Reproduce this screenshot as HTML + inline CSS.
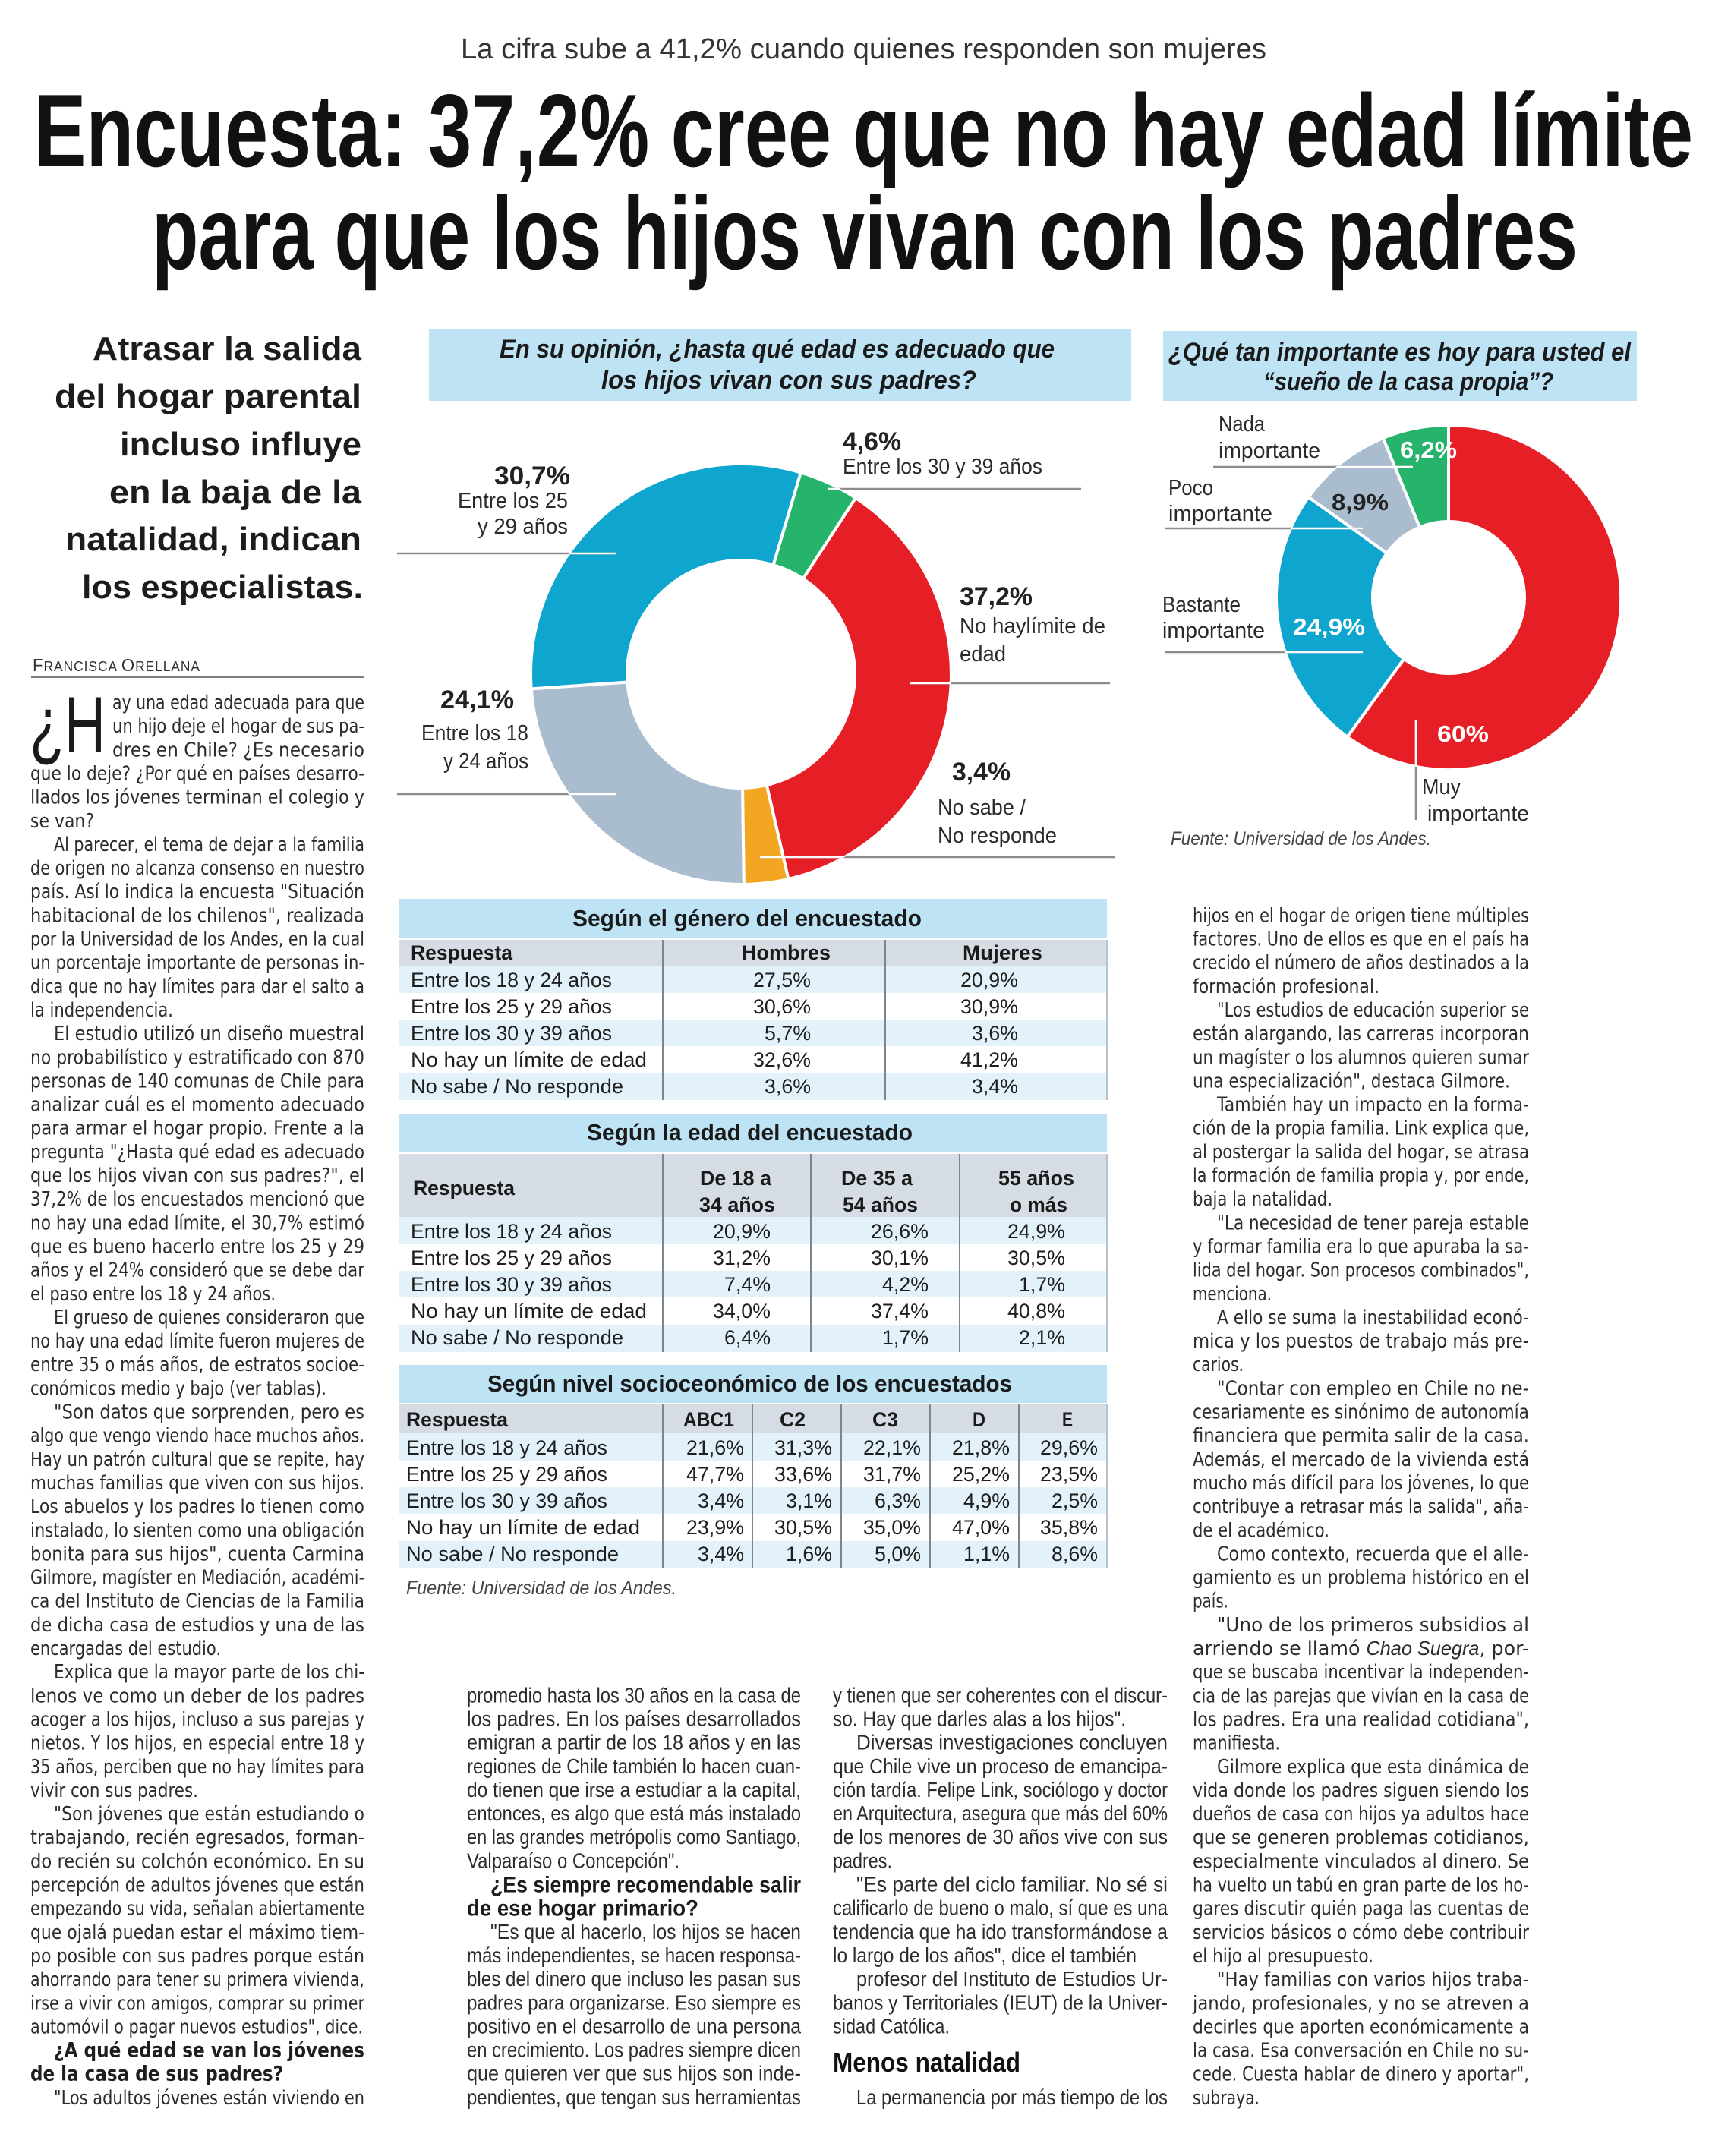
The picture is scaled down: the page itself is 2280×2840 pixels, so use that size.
<!DOCTYPE html>
<html><head><meta charset="utf-8"><style>
html,body{margin:0;padding:0;background:#fff}
svg{display:block}
.t1{font-family:"Liberation Sans",sans-serif;font-weight:bold;font-size:136px;fill:#111}
.sub{font-family:"Liberation Sans",sans-serif;font-size:38px;fill:#333}
.deck{font-family:"Liberation Sans",sans-serif;font-weight:bold;font-size:44px;fill:#1c1c1c}
.bd{font-family:"DejaVu Sans","Liberation Sans",sans-serif;font-size:26px;fill:#2c2c2c}
.bdb{font-family:"DejaVu Sans","Liberation Sans",sans-serif;font-weight:bold;font-size:27px;fill:#1e1e1e}
.md{font-family:"Liberation Sans Narrow","Liberation Sans",sans-serif;font-size:28px;fill:#2c2c2c}
.mdb{font-family:"Liberation Sans Narrow","Liberation Sans",sans-serif;font-weight:bold;font-size:30px;fill:#1c1c1c}
.tb{font-family:"Liberation Sans Narrow","Liberation Sans",sans-serif;font-size:27px;fill:#1e1e1e}
.tbb{font-family:"Liberation Sans Narrow","Liberation Sans",sans-serif;font-weight:bold;font-size:27px;fill:#1a1a1a}
.tt{font-family:"Liberation Sans Narrow","Liberation Sans",sans-serif;font-weight:bold;font-size:31px;fill:#1a1a1a}
.cl{font-family:"Liberation Sans",sans-serif;font-size:29px;fill:#2a2a2a}
.cp{font-family:"Liberation Sans",sans-serif;font-weight:bold;font-size:34px;fill:#222}
.ct{font-family:"Liberation Sans",sans-serif;font-weight:bold;font-style:italic;font-size:34px;fill:#1a1a1a}
.fu{font-family:"Liberation Sans",sans-serif;font-style:italic;font-size:25px;fill:#444}
</style></head><body>
<svg xmlns="http://www.w3.org/2000/svg" width="2280" height="2840" viewBox="0 0 2280 2840">
<defs>
<clipPath id="ring1"><path clip-rule="evenodd" d="M699,888 A277,277 0 1,0 1253,888 A277,277 0 1,0 699,888 Z M826,888 A150,150 0 1,0 1126,888 A150,150 0 1,0 826,888 Z"/></clipPath>
<clipPath id="ring2"><path clip-rule="evenodd" d="M1681,787 A227,227 0 1,0 2135,787 A227,227 0 1,0 1681,787 Z M1808,787 A100,100 0 1,0 2008,787 A100,100 0 1,0 1808,787 Z"/></clipPath>
</defs>

<!-- HEADER -->
<text class="sub" x="607" y="77" textLength="1061" lengthAdjust="spacingAndGlyphs">La cifra sube a 41,2% cuando quienes responden son mujeres</text>
<text class="t1" x="45" y="219" textLength="2185" lengthAdjust="spacingAndGlyphs">Encuesta: 37,2% cree que no hay edad límite</text>
<text class="t1" x="200" y="354" textLength="1878" lengthAdjust="spacingAndGlyphs">para que los hijos vivan con los padres</text>

<!-- DECK -->
<text class="deck" x="122" y="474" textLength="354" lengthAdjust="spacingAndGlyphs">Atrasar la salida</text>
<text class="deck" x="72" y="537" textLength="404" lengthAdjust="spacingAndGlyphs">del hogar parental</text>
<text class="deck" x="158" y="600" textLength="318" lengthAdjust="spacingAndGlyphs">incluso influye</text>
<text class="deck" x="144" y="663" textLength="332" lengthAdjust="spacingAndGlyphs">en la baja de la</text>
<text class="deck" x="86" y="725" textLength="390" lengthAdjust="spacingAndGlyphs">natalidad, indican</text>
<text class="deck" x="108" y="788" textLength="370" lengthAdjust="spacingAndGlyphs">los especialistas.</text>

<!-- BYLINE -->
<text x="43" y="884" textLength="221" lengthAdjust="spacingAndGlyphs" style="font-family:'Liberation Sans',sans-serif;font-size:18px;fill:#333;letter-spacing:1px"><tspan style="font-size:23px">F</tspan>RANCISCA <tspan style="font-size:23px">O</tspan>RELLANA</text>
<line x1="41" y1="892" x2="479" y2="892" stroke="#555" stroke-width="1.6"/>

<!-- DROP CAP -->
<text x="39" y="990" textLength="100" lengthAdjust="spacingAndGlyphs" style="font-family:'Liberation Sans',sans-serif;font-size:104px;fill:#1a1a1a">¿H</text>

<!-- LEFT COLUMN -->
<text class="bd" x="148" y="934.0" textLength="332" lengthAdjust="spacingAndGlyphs">ay una edad adecuada para que</text>
<text class="bd" x="148" y="965.2" textLength="332" lengthAdjust="spacingAndGlyphs">un hijo deje el hogar de sus pa-</text>
<text class="bd" x="148" y="996.3" textLength="332" lengthAdjust="spacingAndGlyphs">dres en Chile? ¿Es necesario</text>
<text class="bd" x="40" y="1027.5" textLength="440" lengthAdjust="spacingAndGlyphs">que lo deje? ¿Por qué en países desarro-</text>
<text class="bd" x="40" y="1058.6" textLength="440" lengthAdjust="spacingAndGlyphs">llados los jóvenes terminan el colegio y</text>
<text class="bd" x="40" y="1089.8" textLength="84" lengthAdjust="spacingAndGlyphs">se van?</text>
<text class="bd" x="71" y="1120.9" textLength="409" lengthAdjust="spacingAndGlyphs">Al parecer, el tema de dejar a la familia</text>
<text class="bd" x="40" y="1152.1" textLength="440" lengthAdjust="spacingAndGlyphs">de origen no alcanza consenso en nuestro</text>
<text class="bd" x="40" y="1183.2" textLength="440" lengthAdjust="spacingAndGlyphs">país. Así lo indica la encuesta "Situación</text>
<text class="bd" x="40" y="1214.4" textLength="440" lengthAdjust="spacingAndGlyphs">habitacional de los chilenos", realizada</text>
<text class="bd" x="40" y="1245.5" textLength="440" lengthAdjust="spacingAndGlyphs">por la Universidad de los Andes, en la cual</text>
<text class="bd" x="40" y="1276.7" textLength="440" lengthAdjust="spacingAndGlyphs">un porcentaje importante de personas in-</text>
<text class="bd" x="40" y="1307.8" textLength="440" lengthAdjust="spacingAndGlyphs">dica que no hay límites para dar el salto a</text>
<text class="bd" x="40" y="1339.0" textLength="188" lengthAdjust="spacingAndGlyphs">la independencia.</text>
<text class="bd" x="71" y="1370.1" textLength="409" lengthAdjust="spacingAndGlyphs">El estudio utilizó un diseño muestral</text>
<text class="bd" x="40" y="1401.3" textLength="440" lengthAdjust="spacingAndGlyphs">no probabilístico y estratificado con 870</text>
<text class="bd" x="40" y="1432.4" textLength="440" lengthAdjust="spacingAndGlyphs">personas de 140 comunas de Chile para</text>
<text class="bd" x="40" y="1463.6" textLength="440" lengthAdjust="spacingAndGlyphs">analizar cuál es el momento adecuado</text>
<text class="bd" x="40" y="1494.7" textLength="440" lengthAdjust="spacingAndGlyphs">para armar el hogar propio. Frente a la</text>
<text class="bd" x="40" y="1525.9" textLength="440" lengthAdjust="spacingAndGlyphs">pregunta "¿Hasta qué edad es adecuado</text>
<text class="bd" x="40" y="1557.0" textLength="440" lengthAdjust="spacingAndGlyphs">que los hijos vivan con sus padres?", el</text>
<text class="bd" x="40" y="1588.2" textLength="440" lengthAdjust="spacingAndGlyphs">37,2% de los encuestados mencionó que</text>
<text class="bd" x="40" y="1619.3" textLength="440" lengthAdjust="spacingAndGlyphs">no hay una edad límite, el 30,7% estimó</text>
<text class="bd" x="40" y="1650.5" textLength="440" lengthAdjust="spacingAndGlyphs">que es bueno hacerlo entre los 25 y 29</text>
<text class="bd" x="40" y="1681.6" textLength="440" lengthAdjust="spacingAndGlyphs">años y el 24% consideró que se debe dar</text>
<text class="bd" x="40" y="1712.8" textLength="323" lengthAdjust="spacingAndGlyphs">el paso entre los 18 y 24 años.</text>
<text class="bd" x="71" y="1743.9" textLength="409" lengthAdjust="spacingAndGlyphs">El grueso de quienes consideraron que</text>
<text class="bd" x="40" y="1775.1" textLength="440" lengthAdjust="spacingAndGlyphs">no hay una edad límite fueron mujeres de</text>
<text class="bd" x="40" y="1806.2" textLength="440" lengthAdjust="spacingAndGlyphs">entre 35 o más años, de estratos socioe-</text>
<text class="bd" x="40" y="1837.4" textLength="390" lengthAdjust="spacingAndGlyphs">conómicos medio y bajo (ver tablas).</text>
<text class="bd" x="71" y="1868.5" textLength="409" lengthAdjust="spacingAndGlyphs">"Son datos que sorprenden, pero es</text>
<text class="bd" x="40" y="1899.7" textLength="440" lengthAdjust="spacingAndGlyphs">algo que vengo viendo hace muchos años.</text>
<text class="bd" x="40" y="1930.8" textLength="440" lengthAdjust="spacingAndGlyphs">Hay un patrón cultural que se repite, hay</text>
<text class="bd" x="40" y="1962.0" textLength="440" lengthAdjust="spacingAndGlyphs">muchas familias que viven con sus hijos.</text>
<text class="bd" x="40" y="1993.1" textLength="440" lengthAdjust="spacingAndGlyphs">Los abuelos y los padres lo tienen como</text>
<text class="bd" x="40" y="2024.3" textLength="440" lengthAdjust="spacingAndGlyphs">instalado, lo sienten como una obligación</text>
<text class="bd" x="40" y="2055.4" textLength="440" lengthAdjust="spacingAndGlyphs">bonita para sus hijos", cuenta Carmina</text>
<text class="bd" x="40" y="2086.6" textLength="440" lengthAdjust="spacingAndGlyphs">Gilmore, magíster en Mediación, académi-</text>
<text class="bd" x="40" y="2117.7" textLength="440" lengthAdjust="spacingAndGlyphs">ca del Instituto de Ciencias de la Familia</text>
<text class="bd" x="40" y="2148.9" textLength="440" lengthAdjust="spacingAndGlyphs">de dicha casa de estudios y una de las</text>
<text class="bd" x="40" y="2180.0" textLength="251" lengthAdjust="spacingAndGlyphs">encargadas del estudio.</text>
<text class="bd" x="71" y="2211.2" textLength="409" lengthAdjust="spacingAndGlyphs">Explica que la mayor parte de los chi-</text>
<text class="bd" x="40" y="2242.3" textLength="440" lengthAdjust="spacingAndGlyphs">lenos ve como un deber de los padres</text>
<text class="bd" x="40" y="2273.5" textLength="440" lengthAdjust="spacingAndGlyphs">acoger a los hijos, incluso a sus parejas y</text>
<text class="bd" x="40" y="2304.6" textLength="440" lengthAdjust="spacingAndGlyphs">nietos. Y los hijos, en especial entre 18 y</text>
<text class="bd" x="40" y="2335.8" textLength="440" lengthAdjust="spacingAndGlyphs">35 años, perciben que no hay límites para</text>
<text class="bd" x="40" y="2366.9" textLength="221" lengthAdjust="spacingAndGlyphs">vivir con sus padres.</text>
<text class="bd" x="71" y="2398.1" textLength="409" lengthAdjust="spacingAndGlyphs">"Son jóvenes que están estudiando o</text>
<text class="bd" x="40" y="2429.2" textLength="440" lengthAdjust="spacingAndGlyphs">trabajando, recién egresados, forman-</text>
<text class="bd" x="40" y="2460.4" textLength="440" lengthAdjust="spacingAndGlyphs">do recién su colchón económico. En su</text>
<text class="bd" x="40" y="2491.5" textLength="440" lengthAdjust="spacingAndGlyphs">percepción de adultos jóvenes que están</text>
<text class="bd" x="40" y="2522.7" textLength="440" lengthAdjust="spacingAndGlyphs">empezando su vida, señalan abiertamente</text>
<text class="bd" x="40" y="2553.8" textLength="440" lengthAdjust="spacingAndGlyphs">que ojalá puedan estar el máximo tiem-</text>
<text class="bd" x="40" y="2585.0" textLength="440" lengthAdjust="spacingAndGlyphs">po posible con sus padres porque están</text>
<text class="bd" x="40" y="2616.1" textLength="440" lengthAdjust="spacingAndGlyphs">ahorrando para tener su primera vivienda,</text>
<text class="bd" x="40" y="2647.3" textLength="440" lengthAdjust="spacingAndGlyphs">irse a vivir con amigos, comprar su primer</text>
<text class="bd" x="40" y="2678.4" textLength="438" lengthAdjust="spacingAndGlyphs">automóvil o pagar nuevos estudios", dice.</text>
<text class="bdb" x="71" y="2709.6" textLength="409" lengthAdjust="spacingAndGlyphs">¿A qué edad se van los jóvenes</text>
<text class="bdb" x="40" y="2740.7" textLength="333" lengthAdjust="spacingAndGlyphs">de la casa de sus padres?</text>
<text class="bd" x="71" y="2771.9" textLength="409" lengthAdjust="spacingAndGlyphs">"Los adultos jóvenes están viviendo en</text>

<!-- DONUT 1 -->
<rect x="565" y="434" width="925" height="94" fill="#bde3f5"/>
<text class="ct" x="658" y="471" textLength="731" lengthAdjust="spacingAndGlyphs">En su opinión, ¿hasta qué edad es adecuado que</text>
<text class="ct" x="792" y="512" textLength="494" lengthAdjust="spacingAndGlyphs">los hijos vivan con sus padres?</text>
<g stroke="#fff" stroke-width="4" stroke-linejoin="round">
<path fill="#26b36b" d="M1054.7,622.4 A277,277 0 0 1 1127.1,655.9 L1057.8,762.3 A150,150 0 0 0 1018.6,744.2 Z"/>
<path fill="#e61e26" d="M1127.1,655.9 A277,277 0 0 1 1038.4,1157.9 L1009.8,1034.1 A150,150 0 0 0 1057.8,762.3 Z"/>
<path fill="#f3a622" d="M1038.4,1157.9 A277,277 0 0 1 979.8,1165.0 L978.0,1038.0 A150,150 0 0 0 1009.8,1034.1 Z"/>
<path fill="#aabdcf" d="M979.8,1165.0 A277,277 0 0 1 699.7,907.4 L826.4,898.5 A150,150 0 0 0 978.0,1038.0 Z"/>
<path fill="#0ea5cf" d="M699.7,907.4 A277,277 0 0 1 1054.7,622.4 L1018.6,744.2 A150,150 0 0 0 826.4,898.5 Z"/>
</g>
<g stroke="#8c8c8c" stroke-width="2.5">
<line x1="1090" y1="644" x2="1424" y2="644"/>
<line x1="523" y1="729" x2="812" y2="729"/>
<line x1="1199" y1="900" x2="1462" y2="900"/>
<line x1="523" y1="1046" x2="812" y2="1046"/>
<line x1="1001" y1="1129" x2="1469" y2="1129"/>
</g>
<g stroke="#fff" stroke-width="2.5" clip-path="url(#ring1)">
<line x1="1090" y1="644" x2="1424" y2="644"/>
<line x1="523" y1="729" x2="812" y2="729"/>
<line x1="1199" y1="900" x2="1462" y2="900"/>
<line x1="523" y1="1046" x2="812" y2="1046"/>
<line x1="1001" y1="1129" x2="1469" y2="1129"/>
</g>
<text class="cp" x="1110" y="593" textLength="77" lengthAdjust="spacingAndGlyphs">4,6%</text>
<text class="cl" x="1110" y="624" textLength="263" lengthAdjust="spacingAndGlyphs">Entre los 30 y 39 años</text>
<text class="cp" x="651" y="638" textLength="100" lengthAdjust="spacingAndGlyphs">30,7%</text>
<text class="cl" x="603" y="669" textLength="145" lengthAdjust="spacingAndGlyphs">Entre los 25</text>
<text class="cl" x="629" y="703" textLength="119" lengthAdjust="spacingAndGlyphs">y 29 años</text>
<text class="cp" x="1264" y="797" textLength="96" lengthAdjust="spacingAndGlyphs">37,2%</text>
<text class="cl" x="1264" y="834" textLength="192" lengthAdjust="spacingAndGlyphs">No haylímite de</text>
<text class="cl" x="1264" y="871" textLength="61" lengthAdjust="spacingAndGlyphs">edad</text>
<text class="cp" x="580" y="933" textLength="97" lengthAdjust="spacingAndGlyphs">24,1%</text>
<text class="cl" x="555" y="975" textLength="141" lengthAdjust="spacingAndGlyphs">Entre los 18</text>
<text class="cl" x="584" y="1012" textLength="112" lengthAdjust="spacingAndGlyphs">y 24 años</text>
<text class="cp" x="1254" y="1028" textLength="77" lengthAdjust="spacingAndGlyphs">3,4%</text>
<text class="cl" x="1235" y="1073" textLength="116" lengthAdjust="spacingAndGlyphs">No sabe /</text>
<text class="cl" x="1235" y="1110" textLength="157" lengthAdjust="spacingAndGlyphs">No responde</text>

<!-- DONUT 2 -->
<rect x="1532" y="436" width="624" height="92" fill="#bde3f5"/>
<text class="ct" x="1539" y="475" textLength="609" lengthAdjust="spacingAndGlyphs">¿Qué tan importante es hoy para usted el</text>
<text class="ct" x="1664" y="514" textLength="382" lengthAdjust="spacingAndGlyphs">“sueño de la casa propia”?</text>
<g stroke="#fff" stroke-width="4" stroke-linejoin="round">
<path fill="#e61e26" d="M1908,560 A227,227 0 1 1 1774.6,970.6 L1849.2,867.9 A100,100 0 1 0 1908,687 Z"/>
<path fill="#0ea5cf" d="M1774.6,970.6 A227,227 0 0 1 1723.5,654.7 L1826.7,728.7 A100,100 0 0 0 1849.2,867.9 Z"/>
<path fill="#aabdcf" d="M1723.5,654.7 A227,227 0 0 1 1821.8,577.0 L1870.0,694.5 A100,100 0 0 0 1826.7,728.7 Z"/>
<path fill="#26b36b" d="M1821.8,577.0 A227,227 0 0 1 1908,560 L1908,687 A100,100 0 0 0 1870.0,694.5 Z"/>
</g>
<g stroke="#8c8c8c" stroke-width="2.5">
<line x1="1598" y1="615" x2="1861" y2="615"/>
<line x1="1535" y1="696" x2="1795" y2="696"/>
<line x1="1535" y1="859" x2="1795" y2="859"/>
<line x1="1865" y1="948" x2="1865" y2="1080"/>
</g>
<g stroke="#fff" stroke-width="2.5" clip-path="url(#ring2)">
<line x1="1598" y1="615" x2="1861" y2="615"/>
<line x1="1535" y1="696" x2="1795" y2="696"/>
<line x1="1535" y1="859" x2="1795" y2="859"/>
<line x1="1865" y1="948" x2="1865" y2="1080"/>
</g>
<text class="cl" x="1605" y="568" textLength="61" lengthAdjust="spacingAndGlyphs">Nada</text>
<text class="cl" x="1605" y="603" textLength="134" lengthAdjust="spacingAndGlyphs">importante</text>
<text class="cl" x="1539" y="652" textLength="59" lengthAdjust="spacingAndGlyphs">Poco</text>
<text class="cl" x="1539" y="686" textLength="137" lengthAdjust="spacingAndGlyphs">importante</text>
<text class="cl" x="1531" y="806" textLength="103" lengthAdjust="spacingAndGlyphs">Bastante</text>
<text class="cl" x="1531" y="840" textLength="135" lengthAdjust="spacingAndGlyphs">importante</text>
<text class="cl" x="1873" y="1046" textLength="51" lengthAdjust="spacingAndGlyphs">Muy</text>
<text class="cl" x="1880" y="1081" textLength="134" lengthAdjust="spacingAndGlyphs">importante</text>
<text class="cp" x="1844" y="603" textLength="75" lengthAdjust="spacingAndGlyphs" style="fill:#fff;font-size:31px">6,2%</text>
<text class="cp" x="1754" y="672" textLength="75" lengthAdjust="spacingAndGlyphs" style="font-size:31px">8,9%</text>
<text class="cp" x="1703" y="836" textLength="95" lengthAdjust="spacingAndGlyphs" style="fill:#fff;font-size:31px">24,9%</text>
<text class="cp" x="1893" y="977" textLength="68" lengthAdjust="spacingAndGlyphs" style="fill:#fff;font-size:31px">60%</text>
<text class="fu" x="1542" y="1113" textLength="343" lengthAdjust="spacingAndGlyphs">Fuente:  Universidad de los Andes.</text>

<!-- TABLE 1 -->
<rect x="526" y="1184" width="932" height="52" fill="#bde3f5"/>
<text class="tt" x="754" y="1220" textLength="460" lengthAdjust="spacingAndGlyphs">Según el género del encuestado</text>
<rect x="526" y="1238" width="932" height="34" fill="#d5dce3"/>
<rect x="526" y="1272" width="932" height="36" fill="#e2f1fa"/>
<rect x="526" y="1343" width="932" height="35" fill="#e2f1fa"/>
<rect x="526" y="1413" width="932" height="36" fill="#e2f1fa"/>
<g stroke="#7d8590" stroke-width="2"><line x1="873" y1="1238" x2="873" y2="1449"/><line x1="1166" y1="1238" x2="1166" y2="1449"/></g>
<line x1="1458" y1="1238" x2="1458" y2="1449" stroke="#b8c2cc" stroke-width="2"/>
<text class="tbb" x="541" y="1264" textLength="134" lengthAdjust="spacingAndGlyphs">Respuesta</text>
<text class="tbb" x="977" y="1264" textLength="117" lengthAdjust="spacingAndGlyphs">Hombres</text>
<text class="tbb" x="1268" y="1264" textLength="105" lengthAdjust="spacingAndGlyphs">Mujeres</text>
<text class="tb" x="541" y="1300" textLength="265" lengthAdjust="spacingAndGlyphs">Entre los 18 y 24 años</text>
<text class="tb" x="541" y="1335" textLength="265" lengthAdjust="spacingAndGlyphs">Entre los 25 y 29 años</text>
<text class="tb" x="541" y="1370" textLength="265" lengthAdjust="spacingAndGlyphs">Entre los 30 y 39 años</text>
<text class="tb" x="541" y="1405" textLength="311" lengthAdjust="spacingAndGlyphs">No hay un límite de edad</text>
<text class="tb" x="541" y="1440" textLength="280" lengthAdjust="spacingAndGlyphs">No sabe / No responde</text>
<text class="tb" x="992" y="1300" textLength="76" lengthAdjust="spacingAndGlyphs">27,5%</text>
<text class="tb" x="992" y="1335" textLength="76" lengthAdjust="spacingAndGlyphs">30,6%</text>
<text class="tb" x="1007" y="1370" textLength="61" lengthAdjust="spacingAndGlyphs">5,7%</text>
<text class="tb" x="992" y="1405" textLength="76" lengthAdjust="spacingAndGlyphs">32,6%</text>
<text class="tb" x="1007" y="1440" textLength="61" lengthAdjust="spacingAndGlyphs">3,6%</text>
<text class="tb" x="1265" y="1300" textLength="76" lengthAdjust="spacingAndGlyphs">20,9%</text>
<text class="tb" x="1265" y="1335" textLength="76" lengthAdjust="spacingAndGlyphs">30,9%</text>
<text class="tb" x="1280" y="1370" textLength="61" lengthAdjust="spacingAndGlyphs">3,6%</text>
<text class="tb" x="1265" y="1405" textLength="76" lengthAdjust="spacingAndGlyphs">41,2%</text>
<text class="tb" x="1280" y="1440" textLength="61" lengthAdjust="spacingAndGlyphs">3,4%</text>

<!-- TABLE 2 -->
<rect x="526" y="1468" width="932" height="50" fill="#bde3f5"/>
<text class="tt" x="773" y="1502" textLength="429" lengthAdjust="spacingAndGlyphs">Según la edad del encuestado</text>
<rect x="526" y="1520" width="932" height="83" fill="#d5dce3"/>
<rect x="526" y="1603" width="932" height="36" fill="#e2f1fa"/>
<rect x="526" y="1674" width="932" height="35" fill="#e2f1fa"/>
<rect x="526" y="1745" width="932" height="36" fill="#e2f1fa"/>
<g stroke="#7d8590" stroke-width="2"><line x1="873" y1="1520" x2="873" y2="1781"/><line x1="1068" y1="1520" x2="1068" y2="1781"/><line x1="1264" y1="1520" x2="1264" y2="1781"/></g>
<line x1="1458" y1="1520" x2="1458" y2="1781" stroke="#b8c2cc" stroke-width="2"/>
<text class="tbb" x="544" y="1574" textLength="134" lengthAdjust="spacingAndGlyphs">Respuesta</text>
<text class="tbb" x="922" y="1561" textLength="94" lengthAdjust="spacingAndGlyphs">De 18 a</text>
<text class="tbb" x="921" y="1596" textLength="100" lengthAdjust="spacingAndGlyphs">34 años</text>
<text class="tbb" x="1108" y="1561" textLength="94" lengthAdjust="spacingAndGlyphs">De 35 a</text>
<text class="tbb" x="1110" y="1596" textLength="99" lengthAdjust="spacingAndGlyphs">54 años</text>
<text class="tbb" x="1315" y="1561" textLength="100" lengthAdjust="spacingAndGlyphs">55 años</text>
<text class="tbb" x="1330" y="1596" textLength="76" lengthAdjust="spacingAndGlyphs">o más</text>
<text class="tb" x="541" y="1631" textLength="265" lengthAdjust="spacingAndGlyphs">Entre los 18 y 24 años</text>
<text class="tb" x="541" y="1666" textLength="265" lengthAdjust="spacingAndGlyphs">Entre los 25 y 29 años</text>
<text class="tb" x="541" y="1701" textLength="265" lengthAdjust="spacingAndGlyphs">Entre los 30 y 39 años</text>
<text class="tb" x="541" y="1736" textLength="311" lengthAdjust="spacingAndGlyphs">No hay un límite de edad</text>
<text class="tb" x="541" y="1771" textLength="280" lengthAdjust="spacingAndGlyphs">No sabe / No responde</text>
<text class="tb" x="939" y="1631" textLength="76" lengthAdjust="spacingAndGlyphs">20,9%</text>
<text class="tb" x="939" y="1666" textLength="76" lengthAdjust="spacingAndGlyphs">31,2%</text>
<text class="tb" x="954" y="1701" textLength="61" lengthAdjust="spacingAndGlyphs">7,4%</text>
<text class="tb" x="939" y="1736" textLength="76" lengthAdjust="spacingAndGlyphs">34,0%</text>
<text class="tb" x="954" y="1771" textLength="61" lengthAdjust="spacingAndGlyphs">6,4%</text>
<text class="tb" x="1147" y="1631" textLength="76" lengthAdjust="spacingAndGlyphs">26,6%</text>
<text class="tb" x="1147" y="1666" textLength="76" lengthAdjust="spacingAndGlyphs">30,1%</text>
<text class="tb" x="1162" y="1701" textLength="61" lengthAdjust="spacingAndGlyphs">4,2%</text>
<text class="tb" x="1147" y="1736" textLength="76" lengthAdjust="spacingAndGlyphs">37,4%</text>
<text class="tb" x="1162" y="1771" textLength="61" lengthAdjust="spacingAndGlyphs">1,7%</text>
<text class="tb" x="1327" y="1631" textLength="76" lengthAdjust="spacingAndGlyphs">24,9%</text>
<text class="tb" x="1327" y="1666" textLength="76" lengthAdjust="spacingAndGlyphs">30,5%</text>
<text class="tb" x="1342" y="1701" textLength="61" lengthAdjust="spacingAndGlyphs">1,7%</text>
<text class="tb" x="1327" y="1736" textLength="76" lengthAdjust="spacingAndGlyphs">40,8%</text>
<text class="tb" x="1342" y="1771" textLength="61" lengthAdjust="spacingAndGlyphs">2,1%</text>

<!-- TABLE 3 -->
<rect x="526" y="1798" width="932" height="50" fill="#bde3f5"/>
<text class="tt" x="642" y="1833" textLength="691" lengthAdjust="spacingAndGlyphs">Según nivel socioceonómico de los encuestados</text>
<rect x="526" y="1850" width="932" height="38" fill="#d5dce3"/>
<rect x="526" y="1888" width="932" height="36" fill="#e2f1fa"/>
<rect x="526" y="1959" width="932" height="35" fill="#e2f1fa"/>
<rect x="526" y="2030" width="932" height="35" fill="#e2f1fa"/>
<g stroke="#7d8590" stroke-width="2"><line x1="873" y1="1850" x2="873" y2="2065"/><line x1="991" y1="1850" x2="991" y2="2065"/><line x1="1108" y1="1850" x2="1108" y2="2065"/><line x1="1225" y1="1850" x2="1225" y2="2065"/><line x1="1342" y1="1850" x2="1342" y2="2065"/></g>
<line x1="1458" y1="1850" x2="1458" y2="2065" stroke="#b8c2cc" stroke-width="2"/>
<text class="tbb" x="535" y="1879" textLength="134" lengthAdjust="spacingAndGlyphs">Respuesta</text>
<text class="tbb" x="900" y="1879" textLength="67" lengthAdjust="spacingAndGlyphs">ABC1</text>
<text class="tbb" x="1027" y="1879" textLength="34" lengthAdjust="spacingAndGlyphs">C2</text>
<text class="tbb" x="1149" y="1879" textLength="34" lengthAdjust="spacingAndGlyphs">C3</text>
<text class="tbb" x="1281" y="1879" textLength="17" lengthAdjust="spacingAndGlyphs">D</text>
<text class="tbb" x="1399" y="1879" textLength="14" lengthAdjust="spacingAndGlyphs">E</text>
<text class="tb" x="535" y="1916" textLength="265" lengthAdjust="spacingAndGlyphs">Entre los 18 y 24 años</text>
<text class="tb" x="535" y="1951" textLength="265" lengthAdjust="spacingAndGlyphs">Entre los 25 y 29 años</text>
<text class="tb" x="535" y="1986" textLength="265" lengthAdjust="spacingAndGlyphs">Entre los 30 y 39 años</text>
<text class="tb" x="535" y="2021" textLength="308" lengthAdjust="spacingAndGlyphs">No hay un límite de edad</text>
<text class="tb" x="535" y="2056" textLength="280" lengthAdjust="spacingAndGlyphs">No sabe / No responde</text>
<text class="tb" x="904" y="1916" textLength="76" lengthAdjust="spacingAndGlyphs">21,6%</text>
<text class="tb" x="904" y="1951" textLength="76" lengthAdjust="spacingAndGlyphs">47,7%</text>
<text class="tb" x="919" y="1986" textLength="61" lengthAdjust="spacingAndGlyphs">3,4%</text>
<text class="tb" x="904" y="2021" textLength="76" lengthAdjust="spacingAndGlyphs">23,9%</text>
<text class="tb" x="919" y="2056" textLength="61" lengthAdjust="spacingAndGlyphs">3,4%</text>
<text class="tb" x="1020" y="1916" textLength="76" lengthAdjust="spacingAndGlyphs">31,3%</text>
<text class="tb" x="1020" y="1951" textLength="76" lengthAdjust="spacingAndGlyphs">33,6%</text>
<text class="tb" x="1035" y="1986" textLength="61" lengthAdjust="spacingAndGlyphs">3,1%</text>
<text class="tb" x="1020" y="2021" textLength="76" lengthAdjust="spacingAndGlyphs">30,5%</text>
<text class="tb" x="1035" y="2056" textLength="61" lengthAdjust="spacingAndGlyphs">1,6%</text>
<text class="tb" x="1137" y="1916" textLength="76" lengthAdjust="spacingAndGlyphs">22,1%</text>
<text class="tb" x="1137" y="1951" textLength="76" lengthAdjust="spacingAndGlyphs">31,7%</text>
<text class="tb" x="1152" y="1986" textLength="61" lengthAdjust="spacingAndGlyphs">6,3%</text>
<text class="tb" x="1137" y="2021" textLength="76" lengthAdjust="spacingAndGlyphs">35,0%</text>
<text class="tb" x="1152" y="2056" textLength="61" lengthAdjust="spacingAndGlyphs">5,0%</text>
<text class="tb" x="1254" y="1916" textLength="76" lengthAdjust="spacingAndGlyphs">21,8%</text>
<text class="tb" x="1254" y="1951" textLength="76" lengthAdjust="spacingAndGlyphs">25,2%</text>
<text class="tb" x="1269" y="1986" textLength="61" lengthAdjust="spacingAndGlyphs">4,9%</text>
<text class="tb" x="1254" y="2021" textLength="76" lengthAdjust="spacingAndGlyphs">47,0%</text>
<text class="tb" x="1269" y="2056" textLength="61" lengthAdjust="spacingAndGlyphs">1,1%</text>
<text class="tb" x="1370" y="1916" textLength="76" lengthAdjust="spacingAndGlyphs">29,6%</text>
<text class="tb" x="1370" y="1951" textLength="76" lengthAdjust="spacingAndGlyphs">23,5%</text>
<text class="tb" x="1385" y="1986" textLength="61" lengthAdjust="spacingAndGlyphs">2,5%</text>
<text class="tb" x="1370" y="2021" textLength="76" lengthAdjust="spacingAndGlyphs">35,8%</text>
<text class="tb" x="1385" y="2056" textLength="61" lengthAdjust="spacingAndGlyphs">8,6%</text>
<text class="fu" x="535" y="2100" textLength="356" lengthAdjust="spacingAndGlyphs" style="font-family:'Liberation Sans Narrow','Liberation Sans',sans-serif">Fuente:  Universidad de los Andes.</text>

<!-- MIDDLE-LEFT COLUMN -->
<text class="md" x="615" y="2242.3" textLength="440" lengthAdjust="spacingAndGlyphs">promedio hasta los 30 años en la casa de</text>
<text class="md" x="615" y="2273.5" textLength="440" lengthAdjust="spacingAndGlyphs">los padres. En los países desarrollados</text>
<text class="md" x="615" y="2304.6" textLength="440" lengthAdjust="spacingAndGlyphs">emigran a partir de los 18 años y en las</text>
<text class="md" x="615" y="2335.8" textLength="440" lengthAdjust="spacingAndGlyphs">regiones de Chile también lo hacen cuan-</text>
<text class="md" x="615" y="2366.9" textLength="440" lengthAdjust="spacingAndGlyphs">do tienen que irse a estudiar a la capital,</text>
<text class="md" x="615" y="2398.1" textLength="440" lengthAdjust="spacingAndGlyphs">entonces, es algo que está más instalado</text>
<text class="md" x="615" y="2429.2" textLength="440" lengthAdjust="spacingAndGlyphs">en las grandes metrópolis como Santiago,</text>
<text class="md" x="615" y="2460.4" textLength="280" lengthAdjust="spacingAndGlyphs">Valparaíso o Concepción".</text>
<text class="mdb" x="646" y="2492.5" textLength="409" lengthAdjust="spacingAndGlyphs">¿Es siempre recomendable salir</text>
<text class="mdb" x="615" y="2523.7" textLength="305" lengthAdjust="spacingAndGlyphs">de ese hogar primario?</text>
<text class="md" x="646" y="2553.8" textLength="409" lengthAdjust="spacingAndGlyphs">"Es que al hacerlo, los hijos se hacen</text>
<text class="md" x="615" y="2585.0" textLength="440" lengthAdjust="spacingAndGlyphs">más independientes, se hacen responsa-</text>
<text class="md" x="615" y="2616.1" textLength="440" lengthAdjust="spacingAndGlyphs">bles del dinero que incluso les pasan sus</text>
<text class="md" x="615" y="2647.3" textLength="440" lengthAdjust="spacingAndGlyphs">padres para organizarse. Eso siempre es</text>
<text class="md" x="615" y="2678.4" textLength="440" lengthAdjust="spacingAndGlyphs">positivo en el desarrollo de una persona</text>
<text class="md" x="615" y="2709.6" textLength="440" lengthAdjust="spacingAndGlyphs">en crecimiento. Los padres siempre dicen</text>
<text class="md" x="615" y="2740.7" textLength="440" lengthAdjust="spacingAndGlyphs">que quieren ver que sus hijos son inde-</text>
<text class="md" x="615" y="2771.9" textLength="440" lengthAdjust="spacingAndGlyphs">pendientes, que tengan sus herramientas</text>

<!-- MIDDLE-RIGHT COLUMN -->
<text class="md" x="1097" y="2242.3" textLength="441" lengthAdjust="spacingAndGlyphs">y tienen que ser coherentes con el discur-</text>
<text class="md" x="1097" y="2273.5" textLength="386" lengthAdjust="spacingAndGlyphs">so. Hay que darles alas a los hijos".</text>
<text class="md" x="1128" y="2304.6" textLength="410" lengthAdjust="spacingAndGlyphs">Diversas investigaciones concluyen</text>
<text class="md" x="1097" y="2335.8" textLength="441" lengthAdjust="spacingAndGlyphs">que Chile vive un proceso de emancipa-</text>
<text class="md" x="1097" y="2366.9" textLength="441" lengthAdjust="spacingAndGlyphs">ción tardía. Felipe Link, sociólogo y doctor</text>
<text class="md" x="1097" y="2398.1" textLength="441" lengthAdjust="spacingAndGlyphs">en Arquitectura, asegura que más del 60%</text>
<text class="md" x="1097" y="2429.2" textLength="441" lengthAdjust="spacingAndGlyphs">de los menores de 30 años vive con sus</text>
<text class="md" x="1097" y="2460.4" textLength="78" lengthAdjust="spacingAndGlyphs">padres.</text>
<text class="md" x="1128" y="2491.5" textLength="410" lengthAdjust="spacingAndGlyphs">"Es parte del ciclo familiar. No sé si</text>
<text class="md" x="1097" y="2522.7" textLength="441" lengthAdjust="spacingAndGlyphs">calificarlo de bueno o malo, sí que es una</text>
<text class="md" x="1097" y="2553.8" textLength="441" lengthAdjust="spacingAndGlyphs">tendencia que ha ido transformándose a</text>
<text class="md" x="1097" y="2585.0" textLength="400" lengthAdjust="spacingAndGlyphs">lo largo de los años", dice el también</text>
<text class="md" x="1128" y="2616.1" textLength="410" lengthAdjust="spacingAndGlyphs">profesor del Instituto de Estudios Ur-</text>
<text class="md" x="1097" y="2647.3" textLength="441" lengthAdjust="spacingAndGlyphs">banos y Territoriales (IEUT) de la Univer-</text>
<text class="md" x="1097" y="2678.4" textLength="154" lengthAdjust="spacingAndGlyphs">sidad Católica.</text>
<text x="1097" y="2729" textLength="247" lengthAdjust="spacingAndGlyphs" style="font-family:'Liberation Sans',sans-serif;font-weight:bold;font-size:36px;fill:#111">Menos natalidad</text>
<text class="md" x="1128" y="2771.9" textLength="410" lengthAdjust="spacingAndGlyphs">La permanencia por más tiempo de los</text>

<!-- RIGHT COLUMN -->
<text class="bd" x="1571" y="1214.4" textLength="443" lengthAdjust="spacingAndGlyphs">hijos en el hogar de origen tiene múltiples</text>
<text class="bd" x="1571" y="1245.5" textLength="443" lengthAdjust="spacingAndGlyphs">factores. Uno de ellos es que en el país ha</text>
<text class="bd" x="1571" y="1276.7" textLength="443" lengthAdjust="spacingAndGlyphs">crecido el número de años destinados a la</text>
<text class="bd" x="1571" y="1307.8" textLength="246" lengthAdjust="spacingAndGlyphs">formación profesional.</text>
<text class="bd" x="1603" y="1339.0" textLength="411" lengthAdjust="spacingAndGlyphs">"Los estudios de educación superior se</text>
<text class="bd" x="1571" y="1370.1" textLength="443" lengthAdjust="spacingAndGlyphs">están alargando, las carreras incorporan</text>
<text class="bd" x="1571" y="1401.3" textLength="443" lengthAdjust="spacingAndGlyphs">un magíster o los alumnos quieren sumar</text>
<text class="bd" x="1571" y="1432.4" textLength="418" lengthAdjust="spacingAndGlyphs">una especialización", destaca Gilmore.</text>
<text class="bd" x="1603" y="1463.6" textLength="411" lengthAdjust="spacingAndGlyphs">También hay un impacto en la forma-</text>
<text class="bd" x="1571" y="1494.7" textLength="443" lengthAdjust="spacingAndGlyphs">ción de la propia familia. Link explica que,</text>
<text class="bd" x="1571" y="1525.9" textLength="443" lengthAdjust="spacingAndGlyphs">al postergar la salida del hogar, se atrasa</text>
<text class="bd" x="1571" y="1557.0" textLength="443" lengthAdjust="spacingAndGlyphs">la formación de familia propia y, por ende,</text>
<text class="bd" x="1571" y="1588.2" textLength="184" lengthAdjust="spacingAndGlyphs">baja la natalidad.</text>
<text class="bd" x="1603" y="1619.3" textLength="411" lengthAdjust="spacingAndGlyphs">"La necesidad de tener pareja estable</text>
<text class="bd" x="1571" y="1650.5" textLength="443" lengthAdjust="spacingAndGlyphs">y formar familia era lo que apuraba la sa-</text>
<text class="bd" x="1571" y="1681.6" textLength="443" lengthAdjust="spacingAndGlyphs">lida del hogar. Son procesos combinados",</text>
<text class="bd" x="1571" y="1712.8" textLength="104" lengthAdjust="spacingAndGlyphs">menciona.</text>
<text class="bd" x="1603" y="1743.9" textLength="411" lengthAdjust="spacingAndGlyphs">A ello se suma la inestabilidad econó-</text>
<text class="bd" x="1571" y="1775.1" textLength="443" lengthAdjust="spacingAndGlyphs">mica y los puestos de trabajo más pre-</text>
<text class="bd" x="1571" y="1806.2" textLength="67" lengthAdjust="spacingAndGlyphs">carios.</text>
<text class="bd" x="1603" y="1837.4" textLength="411" lengthAdjust="spacingAndGlyphs">"Contar con empleo en Chile no ne-</text>
<text class="bd" x="1571" y="1868.5" textLength="443" lengthAdjust="spacingAndGlyphs">cesariamente es sinónimo de autonomía</text>
<text class="bd" x="1571" y="1899.7" textLength="443" lengthAdjust="spacingAndGlyphs">financiera que permita salir de la casa.</text>
<text class="bd" x="1571" y="1930.8" textLength="443" lengthAdjust="spacingAndGlyphs">Además, el mercado de la vivienda está</text>
<text class="bd" x="1571" y="1962.0" textLength="443" lengthAdjust="spacingAndGlyphs">mucho más difícil para los jóvenes, lo que</text>
<text class="bd" x="1571" y="1993.1" textLength="443" lengthAdjust="spacingAndGlyphs">contribuye a retrasar más la salida", aña-</text>
<text class="bd" x="1571" y="2024.3" textLength="180" lengthAdjust="spacingAndGlyphs">de el académico.</text>
<text class="bd" x="1603" y="2055.4" textLength="411" lengthAdjust="spacingAndGlyphs">Como contexto, recuerda que el alle-</text>
<text class="bd" x="1571" y="2086.6" textLength="443" lengthAdjust="spacingAndGlyphs">gamiento es un problema histórico en el</text>
<text class="bd" x="1571" y="2117.7" textLength="47" lengthAdjust="spacingAndGlyphs">país.</text>
<text class="bd" x="1603" y="2148.9" textLength="411" lengthAdjust="spacingAndGlyphs">"Uno de los primeros subsidios al</text>
<text class="bd" x="1571" y="2180.0" textLength="443" lengthAdjust="spacingAndGlyphs">arriendo se llamó <tspan style="font-style:italic;font-family:'Liberation Sans',sans-serif">Chao Suegra</tspan>, por-</text>
<text class="bd" x="1571" y="2211.2" textLength="443" lengthAdjust="spacingAndGlyphs">que se buscaba incentivar la independen-</text>
<text class="bd" x="1571" y="2242.3" textLength="443" lengthAdjust="spacingAndGlyphs">cia de las parejas que vivían en la casa de</text>
<text class="bd" x="1571" y="2273.5" textLength="443" lengthAdjust="spacingAndGlyphs">los padres. Era una realidad cotidiana",</text>
<text class="bd" x="1571" y="2304.6" textLength="115" lengthAdjust="spacingAndGlyphs">manifiesta.</text>
<text class="bd" x="1603" y="2335.8" textLength="411" lengthAdjust="spacingAndGlyphs">Gilmore explica que esta dinámica de</text>
<text class="bd" x="1571" y="2366.9" textLength="443" lengthAdjust="spacingAndGlyphs">vida donde los padres siguen siendo los</text>
<text class="bd" x="1571" y="2398.1" textLength="443" lengthAdjust="spacingAndGlyphs">dueños de casa con hijos ya adultos hace</text>
<text class="bd" x="1571" y="2429.2" textLength="443" lengthAdjust="spacingAndGlyphs">que se generen problemas cotidianos,</text>
<text class="bd" x="1571" y="2460.4" textLength="443" lengthAdjust="spacingAndGlyphs">especialmente vinculados al dinero. Se</text>
<text class="bd" x="1571" y="2491.5" textLength="443" lengthAdjust="spacingAndGlyphs">ha vuelto un tabú en gran parte de los ho-</text>
<text class="bd" x="1571" y="2522.7" textLength="443" lengthAdjust="spacingAndGlyphs">gares discutir quién paga las cuentas de</text>
<text class="bd" x="1571" y="2553.8" textLength="443" lengthAdjust="spacingAndGlyphs">servicios básicos o cómo debe contribuir</text>
<text class="bd" x="1571" y="2585.0" textLength="238" lengthAdjust="spacingAndGlyphs">el hijo al presupuesto.</text>
<text class="bd" x="1603" y="2616.1" textLength="411" lengthAdjust="spacingAndGlyphs">"Hay familias con varios hijos traba-</text>
<text class="bd" x="1571" y="2647.3" textLength="443" lengthAdjust="spacingAndGlyphs">jando, profesionales, y no se atreven a</text>
<text class="bd" x="1571" y="2678.4" textLength="443" lengthAdjust="spacingAndGlyphs">decirles que aporten económicamente a</text>
<text class="bd" x="1571" y="2709.6" textLength="443" lengthAdjust="spacingAndGlyphs">la casa. Esa conversación en Chile no su-</text>
<text class="bd" x="1571" y="2740.7" textLength="443" lengthAdjust="spacingAndGlyphs">cede. Cuesta hablar de dinero y aportar",</text>
<text class="bd" x="1571" y="2771.9" textLength="88" lengthAdjust="spacingAndGlyphs">subraya.</text>
</svg>
</body></html>
